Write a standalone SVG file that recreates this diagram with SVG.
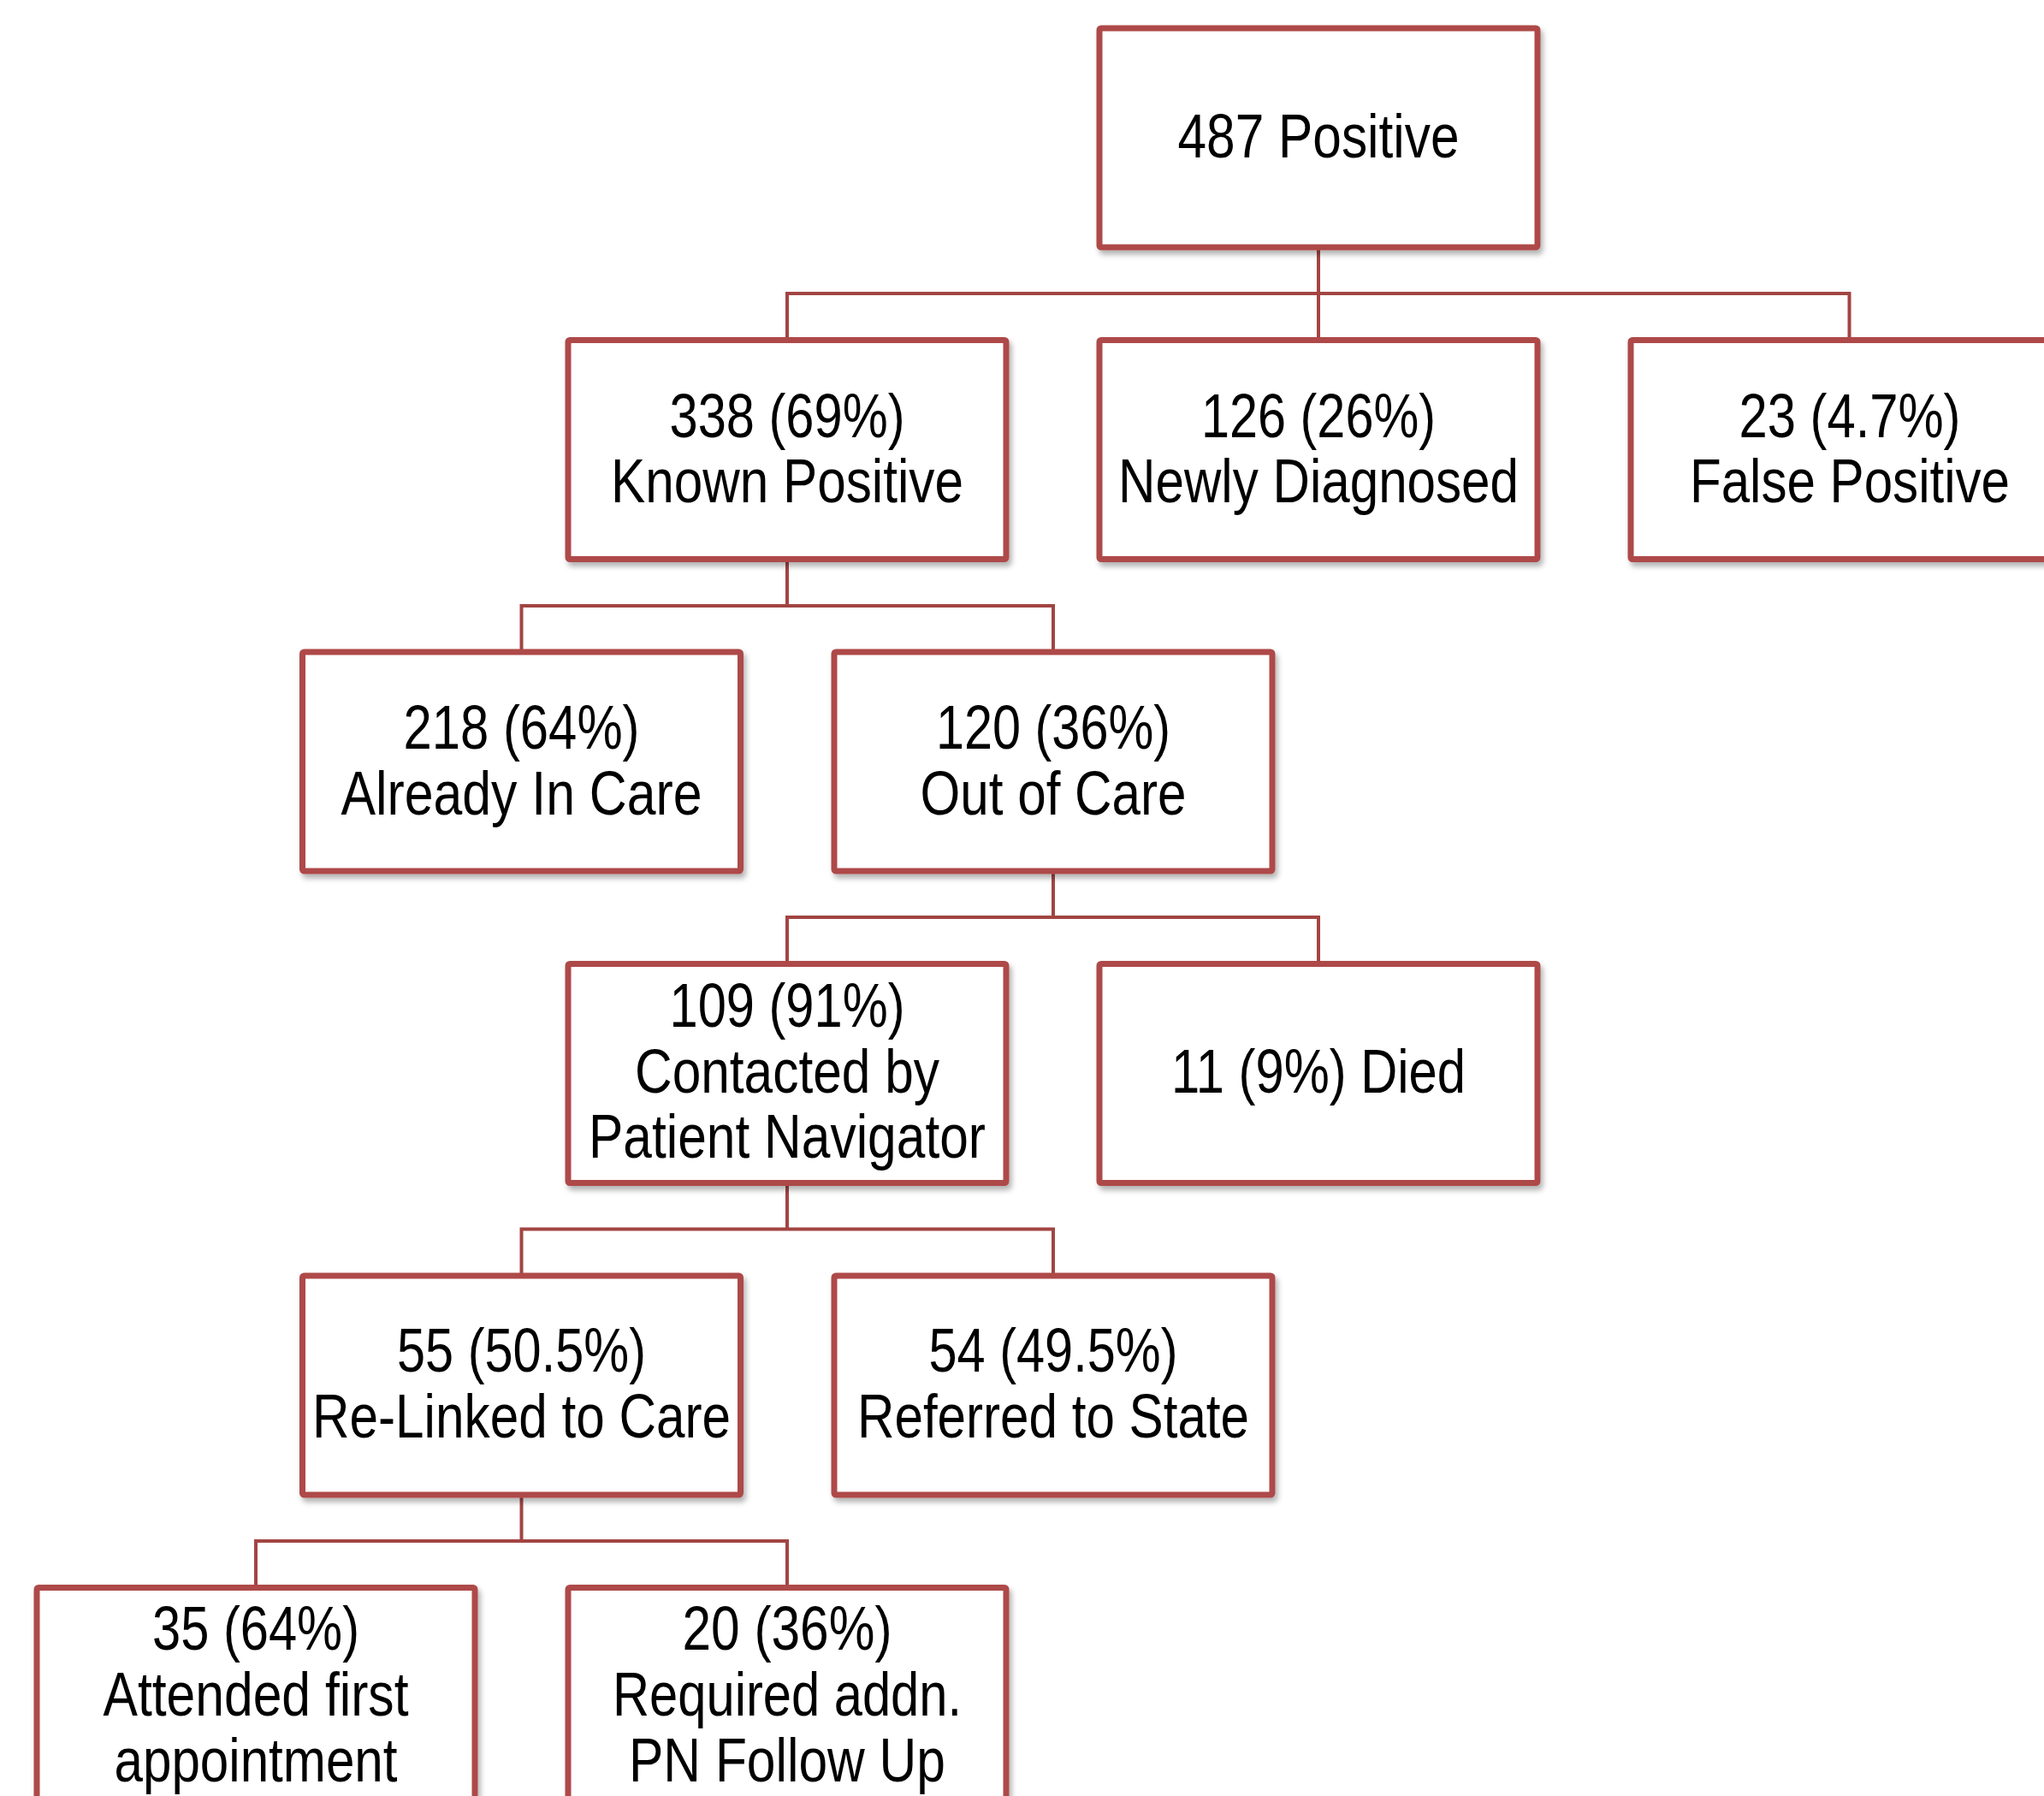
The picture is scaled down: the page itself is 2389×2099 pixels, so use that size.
<svg xmlns="http://www.w3.org/2000/svg" width="2389" height="2099" viewBox="0 0 2389 2099">
<defs>
<filter id="sh" x="-5%" y="-5%" width="115%" height="115%">
<feDropShadow dx="3" dy="5" stdDeviation="3" flood-color="#000" flood-opacity="0.3"/>
</filter>
<style>
.box{fill:#fff;stroke:#AE4A48;stroke-width:7;filter:url(#sh)}
.con{fill:none;stroke:#A24543;stroke-width:4}
text{font-family:"Liberation Sans Narrow","Liberation Sans",Arial,sans-serif;font-size:73px;fill:#000;text-anchor:middle}
</style>
</defs>
<rect width="2389" height="2099" fill="#fff"/>
<g id="connectors">
<path class="con" d="M1541,289V397.5M920,397.5V343H2161.5V397.5"/>
<path class="con" d="M920,653.5V708M609.5,762V708H1231V762"/>
<path class="con" d="M1231,1018V1072M920,1126.5V1072H1541V1126.5"/>
<path class="con" d="M920,1382.5V1436.5M609.5,1491V1436.5H1231V1491"/>
<path class="con" d="M609.5,1747V1801M299,1855.5V1801H920V1855.5"/>
</g>
<g id="n487">
<rect class="box" x="1285" y="33" width="512" height="256" rx="2"/>
<text x="1541" y="184" textLength="329" lengthAdjust="spacingAndGlyphs">487 Positive</text>
</g>
<g id="n338">
<rect class="box" x="664" y="397.5" width="512" height="256" rx="2"/>
<text x="920" y="510.5" textLength="275" lengthAdjust="spacingAndGlyphs">338 (69%)</text>
<text x="920" y="587" textLength="412" lengthAdjust="spacingAndGlyphs">Known Positive</text>
</g>
<g id="n126">
<rect class="box" x="1285" y="397.5" width="512" height="256" rx="2"/>
<text x="1541" y="510.5" textLength="274" lengthAdjust="spacingAndGlyphs">126 (26%)</text>
<text x="1541" y="587" textLength="468" lengthAdjust="spacingAndGlyphs">Newly Diagnosed</text>
</g>
<g id="n23">
<rect class="box" x="1906" y="397.5" width="512" height="256" rx="2"/>
<text x="2162" y="510.5" textLength="259" lengthAdjust="spacingAndGlyphs">23 (4.7%)</text>
<text x="2162" y="587" textLength="374" lengthAdjust="spacingAndGlyphs">False Positive</text>
</g>
<g id="n218">
<rect class="box" x="353.5" y="762" width="512" height="256" rx="2"/>
<text x="609.5" y="875" textLength="276" lengthAdjust="spacingAndGlyphs">218 (64%)</text>
<text x="609.5" y="951.5" textLength="422" lengthAdjust="spacingAndGlyphs">Already In Care</text>
</g>
<g id="n120">
<rect class="box" x="975" y="762" width="512" height="256" rx="2"/>
<text x="1231" y="875" textLength="274" lengthAdjust="spacingAndGlyphs">120 (36%)</text>
<text x="1231" y="951.5" textLength="311" lengthAdjust="spacingAndGlyphs">Out of Care</text>
</g>
<g id="n109">
<rect class="box" x="664" y="1126.5" width="512" height="256" rx="2"/>
<text x="920" y="1200" textLength="275" lengthAdjust="spacingAndGlyphs">109 (91%)</text>
<text x="920" y="1276.5" textLength="356" lengthAdjust="spacingAndGlyphs">Contacted by</text>
<text x="920" y="1353" textLength="464" lengthAdjust="spacingAndGlyphs">Patient Navigator</text>
</g>
<g id="n11">
<rect class="box" x="1285" y="1126.5" width="512" height="256" rx="2"/>
<text x="1541" y="1276.5" textLength="344" lengthAdjust="spacingAndGlyphs">11 (9%) Died</text>
</g>
<g id="n55">
<rect class="box" x="353.5" y="1491" width="512" height="256" rx="2"/>
<text x="609.5" y="1603" textLength="291" lengthAdjust="spacingAndGlyphs">55 (50.5%)</text>
<text x="609.5" y="1680" textLength="489" lengthAdjust="spacingAndGlyphs">Re-Linked to Care</text>
</g>
<g id="n54">
<rect class="box" x="975" y="1491" width="512" height="256" rx="2"/>
<text x="1231" y="1603" textLength="291" lengthAdjust="spacingAndGlyphs">54 (49.5%)</text>
<text x="1231" y="1680" textLength="458" lengthAdjust="spacingAndGlyphs">Referred to State</text>
</g>
<g id="n35">
<rect class="box" x="43" y="1855.5" width="512" height="256" rx="2"/>
<text x="299" y="1928" textLength="242" lengthAdjust="spacingAndGlyphs">35 (64%)</text>
<text x="299" y="2005" textLength="357" lengthAdjust="spacingAndGlyphs">Attended first</text>
<text x="299" y="2081.5" textLength="331" lengthAdjust="spacingAndGlyphs">appointment</text>
</g>
<g id="n20">
<rect class="box" x="664" y="1855.5" width="512" height="256" rx="2"/>
<text x="920" y="1928" textLength="245" lengthAdjust="spacingAndGlyphs">20 (36%)</text>
<text x="920" y="2005" textLength="408" lengthAdjust="spacingAndGlyphs">Required addn.</text>
<text x="920" y="2081.5" textLength="370" lengthAdjust="spacingAndGlyphs">PN Follow Up</text>
</g>
</svg>
